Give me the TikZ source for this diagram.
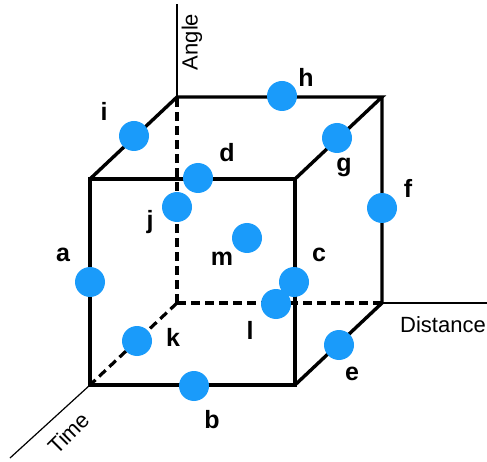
\documentclass[tikz,border=0pt]{standalone}
\usepackage{fontspec}
\setmainfont{Liberation Sans}
\usetikzlibrary{positioning}
\definecolor{dotblue}{RGB}{26,155,250}

\begin{document}
\begin{tikzpicture}[x=1pt,y=-1pt,
  edge/.style={line width=3.4pt,line join=miter},
  hidden/.style={line width=3.2pt,dash pattern=on 9pt off 5pt},
  axis/.style={line width=1.2pt},
  dot/.style={circle,fill=dotblue,inner sep=0pt,minimum size=30pt},
  tag/.style={font=\fontsize{25}{30}\selectfont\bfseries,inner sep=0pt},
  axislabel/.style={font=\fontsize{22}{26}\selectfont,inner sep=0pt}]
\useasboundingbox (0,0) rectangle (487,462);
% cube corners
\coordinate (ftl) at (90,179);
\coordinate (ftr) at (295,179);
\coordinate (fbl) at (90,385);
\coordinate (fbr) at (295,385);
\coordinate (btl) at (177,97);
\coordinate (btr) at (382,97);
\coordinate (bbl) at (177,303);
\coordinate (bbr) at (382,303);
% axis ends
\coordinate (angleend) at (177,4);
\coordinate (distend) at (487,303);
\coordinate (timeend) at (10,458);
\draw[axis] (btl) -- (angleend);
\draw[axis] (bbr) -- (distend);
\draw[axis] (fbl) -- (timeend);
\draw[hidden] (bbl) -- (btl);
\draw[hidden] (bbl) -- (bbr);
\draw[hidden] (bbl) -- (fbl);
\draw[edge] (ftl) -- (ftr) -- (fbr) -- (fbl) -- cycle;
\draw[edge] (ftl) -- (btl) -- (btr) -- (ftr);
\draw[edge] (btr) -- (bbr) -- (fbr);
% axis labels
\node[axislabel,rotate=90] (anglelabel) at (192,42) {Angle};
\node[axislabel] (distlabel) at (443,325) {Distance};
\node[axislabel,rotate=45] (timelabel) at (69,433) {Time};
% points
\node[dot] (a) at (90,282) {};
\node[dot] (b) at (194,386) {};
\node[dot] (l) at (276,304) {};
\node[dot] (c) at (294,282) {};
\node[dot] (d) at (198,178) {};
\node[dot] (e) at (339,345) {};
\node[dot] (f) at (382,208) {};
\node[dot] (g) at (337,138) {};
\node[dot] (h) at (282,96) {};
\node[dot] (i) at (134,136) {};
\node[dot] (j) at (177,207) {};
\node[dot] (k) at (137,341) {};
\node[dot] (m) at (247,238) {};
% point labels
\node[tag] (atag) at (63,255) {a};
\node[tag] (btag) at (212,420) {b};
\node[tag] (ctag) at (319,255) {c};
\node[tag] (dtag) at (227,153) {d};
\node[tag] (etag) at (352,374) {e};
\node[tag] (ftag) at (408,188) {f};
\node[tag] (gtag) at (344,167) {g};
\node[tag] (htag) at (306,77) {h};
\node[tag] (itag) at (104,111) {i};
\node[tag] (jtag) at (150,222) {j};
\node[tag] (ktag) at (173,337) {k};
\node[tag] (ltag) at (250,330) {l};
\node[tag] (mtag) at (222,259) {m};
\end{tikzpicture}
\end{document}
